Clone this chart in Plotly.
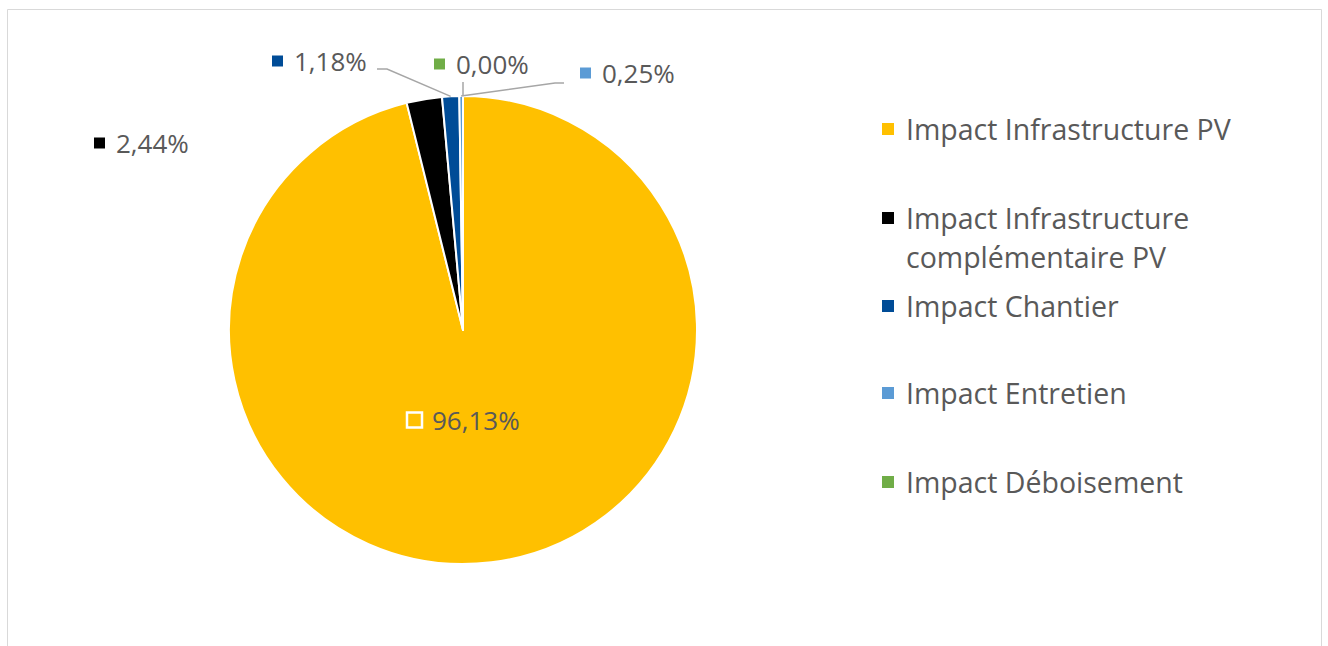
import math
import plotly.graph_objects as go

# Impact breakdown (share of total, %)
categories = [
    "Impact Infrastructure PV",
    "Impact Infrastructure complémentaire PV",
    "Impact Chantier",
    "Impact Entretien",
    "Impact Déboisement",
]
legend_lines = [
    ["Impact Infrastructure PV"],
    ["Impact Infrastructure", "complémentaire PV"],
    ["Impact Chantier"],
    ["Impact Entretien"],
    ["Impact Déboisement"],
]
values = [96.13, 2.44, 1.18, 0.25, 0.00]
colors = ["#FFC000", "#000000", "#004C97", "#5B9BD5", "#70AD47"]

W, H = 1328, 646
CX, CY, R = 463, 330, 234
FONT = "Open Sans"
TEXT_COLOR = "#595959"


def px(x):
    return x / W


def py(y):
    return 1 - y / H


def fmt(v):
    return f"{v:.2f}".replace(".", ",") + "%"


def edge_point(frac):
    a = 2 * math.pi * frac
    return CX + R * math.sin(a), CY - R * math.cos(a)


fig = go.Figure(
    go.Pie(
        labels=categories,
        values=values,
        marker=dict(colors=colors, line=dict(color="#FFFFFF", width=2)),
        sort=False,
        direction="clockwise",
        rotation=0,
        textinfo="none",
        showlegend=False,
        domain=dict(x=[px(CX - R), px(CX + R)], y=[py(CY + R), py(CY - R)]),
    )
)

shapes = []
annotations = []

# Outer chart frame
shapes.append(dict(type="rect", xref="paper", yref="paper",
                   x0=px(7.5), x1=px(1321.5), y0=py(700), y1=py(9.5),
                   line=dict(color="#D9D9D9", width=1), fillcolor="rgba(0,0,0,0)"))

# Data label placement: (square left x, centre y), one per category
label_pos = [(406, 420), (94, 143), (272, 61), (580, 73), (434, 64)]
for i, (v, (lx, ly)) in enumerate(zip(values, label_pos)):
    s = 11
    if i == 0:
        shapes.append(dict(type="rect", xref="paper", yref="paper",
                           x0=px(lx + 1), x1=px(lx + 16), y0=py(ly + 7.5), y1=py(ly - 7.5),
                           line=dict(color="#FFFFFF", width=2.5), fillcolor="rgba(0,0,0,0)"))
        tx = lx + 24
    else:
        shapes.append(dict(type="rect", xref="paper", yref="paper",
                           x0=px(lx), x1=px(lx + s), y0=py(ly + s / 2), y1=py(ly - s / 2),
                           line=dict(width=0), fillcolor=colors[i]))
        tx = lx + 20
    annotations.append(dict(x=px(tx), y=py(ly), xref="paper", yref="paper",
                            text=fmt(v), showarrow=False, xanchor="left", yanchor="middle",
                            font=dict(family=FONT, size=26, color=TEXT_COLOR)))

# Leader lines from small slices to their labels
cum = [sum(values[:i]) for i in range(len(values))]
total = sum(values)
mid = [(c + v / 2) / total for c, v in zip(cum, values)]
line_style = dict(color="#A6A6A6", width=1.5)

ex, ey = edge_point(mid[2])
shapes.append(dict(type="path", xref="paper", yref="paper",
                   path=f"M {px(ex)},{py(ey)} L {px(387)},{py(69)} L {px(377)},{py(69)}",
                   line=line_style))
ex, ey = edge_point(mid[4])
shapes.append(dict(type="path", xref="paper", yref="paper",
                   path=f"M {px(ex)},{py(ey - 1)} L {px(ex)},{py(82)}",
                   line=line_style))
ex, ey = edge_point(mid[3])
shapes.append(dict(type="path", xref="paper", yref="paper",
                   path=f"M {px(ex)},{py(ey)} L {px(555)},{py(83)} L {px(564)},{py(83)}",
                   line=line_style))

# Legend
legend_y = [129, 218, 306, 393, 482]
for i, (lines, ly) in enumerate(zip(legend_lines, legend_y)):
    shapes.append(dict(type="rect", xref="paper", yref="paper",
                       x0=px(882), x1=px(894), y0=py(ly + 6), y1=py(ly - 6),
                       line=dict(width=0), fillcolor=colors[i]))
    for j, t in enumerate(lines):
        annotations.append(dict(x=px(904), y=py(ly + j * 39), xref="paper", yref="paper",
                                text=t, showarrow=False, xanchor="left", yanchor="middle",
                                font=dict(family=FONT, size=28.5, color=TEXT_COLOR)))

fig.update_layout(
    width=W, height=H,
    margin=dict(l=0, r=0, t=0, b=0),
    paper_bgcolor="#FFFFFF",
    plot_bgcolor="#FFFFFF",
    shapes=shapes,
    annotations=annotations,
)

fig.write_html("out.html")
